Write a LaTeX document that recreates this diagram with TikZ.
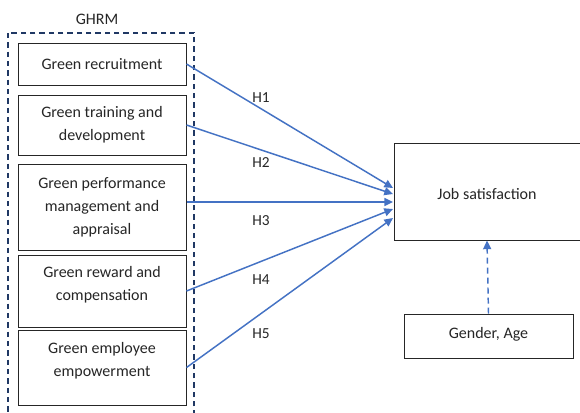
\documentclass[tikz,border=0pt]{standalone}
\usepackage{fontspec}
\setmainfont{Carlito}
\usetikzlibrary{arrows.meta}
\definecolor{linkblue}{HTML}{4472C4}
\definecolor{framenavy}{HTML}{203864}

\begin{document}
\begin{tikzpicture}[x=0.75pt, y=-0.75pt,
    box/.style={draw=black!85, line width=0.75pt, align=center, inner sep=2pt, text=black!85, font=\fontsize{12}{17.3}\selectfont},
    boxtext/.style={align=center, inner sep=0pt, text=black!85, font=\fontsize{12}{17.3}\selectfont},
    link/.style={draw=linkblue, line width=1.1pt, -{Triangle[length=6.5pt,width=6pt]}},
    hlabel/.style={text=black!85, font=\fontsize{11.5}{13}\selectfont}]
      \clip (0,0) rectangle (580,412);
      \fill[white] (0,0) rectangle (580,412);

      \draw[framenavy, line width=1.1pt, dash pattern=on 4pt off 3pt] (8,33) rectangle (194,430);
      \node[hlabel, font=\fontsize{12}{13}\selectfont] (ghrm) at (97,19) {GHRM};

      \node[box, minimum width=126pt, minimum height=31.5pt] (rec) at (102,64) {Green recruitment};
      \node[box, minimum width=126pt, minimum height=45pt] (train) at (102,125) {Green training and\\development};
      \node[box, minimum width=126pt, minimum height=64.5pt] (perf) at (102,207) {Green performance\\management and\\appraisal};
      \node[box, minimum width=126pt, minimum height=54pt] (reward) at (102,291) {};
      \node[boxtext] (rewardtext) at ([yshift=4.5pt]reward.center) {Green reward and\\compensation};
      \node[box, minimum width=126pt, minimum height=56.25pt] (empow) at (102,367.5) {};
      \node[boxtext] (empowtext) at ([yshift=5pt]empow.center) {Green employee\\empowerment};

      \node[box, minimum width=139.5pt, minimum height=72.75pt] (job) at (487,191.5) {};
      \node[boxtext] (jobtext) at ([yshift=-2pt]job.center) {Job satisfaction};
      \node[box, minimum width=126.75pt, minimum height=33pt] (ctrl) at (488.5,336) {};
      \node[boxtext] (ctrltext) at ([yshift=1.5pt]ctrl.center) {Gender, Age};

      \coordinate (e1) at (393,188);
      \coordinate (e2) at (393,194);
      \coordinate (e3) at (393,202);
      \coordinate (e4) at (393,209);
      \coordinate (e5) at (393,218);

      \draw[link] (rec.east) -- (e1);
      \draw[link] (train.east) -- (e2);
      \draw[link] ([yshift=3.75pt]perf.east) -- (e3);
      \draw[link] (reward.east) -- (e4);
      \draw[link] (empow.east) -- (e5);

      \node[hlabel] (h1) at (261,98) {H1};
      \node[hlabel] (h2) at (261,163) {H2};
      \node[hlabel] (h3) at (261,221) {H3};
      \node[hlabel] (h4) at (261,280) {H4};
      \node[hlabel] (h5) at (261,334) {H5};

      \draw[link, dash pattern=on 4.5pt off 3pt] (ctrl.north) -- (job.south);
    \end{tikzpicture}
\end{document}
